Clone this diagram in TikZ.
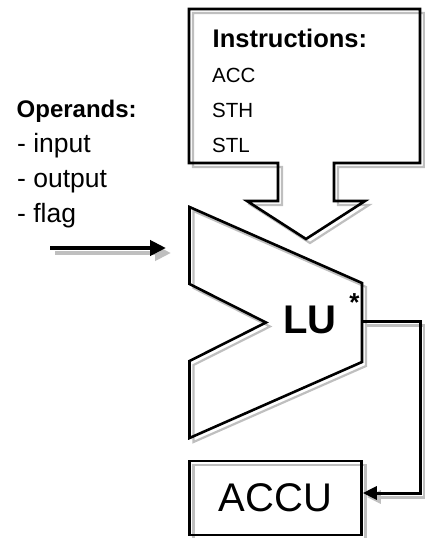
\documentclass[tikz,border=0pt]{standalone}
\usepackage{fontspec}
\setmainfont{Liberation Sans}
\usepackage{tikz}
\usetikzlibrary{arrows.meta,positioning,calc}

% outlines of the two block shapes (pixel grid, y downwards)
\newcommand{\CalloutPath}{(189,9) -- (420,9) -- (420,163) -- (334,163) -- (334,201)
  -- (365,201) -- (306,239) -- (247,201) -- (278,201) -- (278,163) -- (189,163) -- cycle}
\newcommand{\LUPath}{(189.5,207) -- (362,283) -- (362,362) -- (189.5,438)
  -- (189.5,361) -- (266,322.5) -- (189.5,284) -- cycle}

\begin{document}
\begin{tikzpicture}[
  x=1pt, y=-1pt,
  outl/.style  = {draw=black, line width=2.6pt},
  shd/.style   = {draw=black!25, line width=2.2pt, shift={(4,4)}},
  txt/.style   = {anchor=base west, inner sep=0pt},
  ttl/.style   = {txt, font=\bfseries\fontsize{25.5}{30}\selectfont},
  item/.style  = {txt, font=\fontsize{26.5}{30}\selectfont},
  instr/.style = {txt, font=\fontsize{20.5}{24}\selectfont},
  accbox/.style= {draw=black, line width=2.6pt, minimum width=172pt,
                  minimum height=74pt, inner sep=0pt,
                  font=\fontsize{40}{44}\selectfont},
  feed/.style  = {-{Triangle[length=16pt,width=15pt]}, line width=4pt},
  ret/.style   = {-{Triangle[length=14pt,width=13pt]}, line width=3pt}
]
\useasboundingbox (0,0) rectangle (424,538);

%%%%%%%%%%%%%%%%%%%%%%% INSTRUCTION CALLOUT %%%%%%%%%%%%%%%%%%%%%%%%%%%%%%%%%%
\draw[shd]  \CalloutPath;
\draw[outl] \CalloutPath;
\node[ttl]   (instr) at (212.5,47) {Instructions:};
\node[instr] (acc)   at (212,82)   {ACC};
\node[instr] (sth)   at (212,117)  {STH};
\node[instr] (stl)   at (212,152)  {STL};

%%%%%%%%%%%%%%%%%%%%%%% OPERANDS %%%%%%%%%%%%%%%%%%%%%%%%%%%%%%%%%%%%%%%%%%%%%
\node[ttl, font=\bfseries\fontsize{24}{30}\selectfont] (oper) at (16.5,117) {Operands:};
\node[item] (opin)  at (17,152) {- input};
\node[item] (opout) at (17,187) {- output};
\node[item] (opflg) at (17,222) {- flag};

\coordinate (infrom) at (50,248);
\coordinate (into)   at (166,248);
\draw[feed, draw=black!25] ([shift={(5,5)}]infrom) -- ([shift={(5,5)}]into);
\draw[feed] (infrom) -- (into);

%%%%%%%%%%%%%%%%%%%%%%% LOGIC UNIT %%%%%%%%%%%%%%%%%%%%%%%%%%%%%%%%%%%%%%%%%%%
\draw[shd]  \LUPath;
\draw[outl] \LUPath;
\node[txt, font=\bfseries\fontsize{40}{44}\selectfont] (lu) at (283,333) {LU};
\node[font=\bfseries\fontsize{26}{30}\selectfont, inner sep=0pt] (star) at (354.5,303) {*};
\coordinate (luout) at (362,321);

%%%%%%%%%%%%%%%%%%%%%%% ACCUMULATOR %%%%%%%%%%%%%%%%%%%%%%%%%%%%%%%%%%%%%%%%%%
\draw[shd] (189.5,461) rectangle (361.5,535);
\node[accbox] (accu) at (275.5,498) {ACCU};

\draw[ret, draw=black!25] ([shift={(4,4)}]luout) -| (424,497)
      -- ([shift={(4pt,1pt)}]accu.east);
\draw[ret] (luout) -| (420,493) -- ([yshift=5pt]accu.east);

\end{tikzpicture}
\end{document}
